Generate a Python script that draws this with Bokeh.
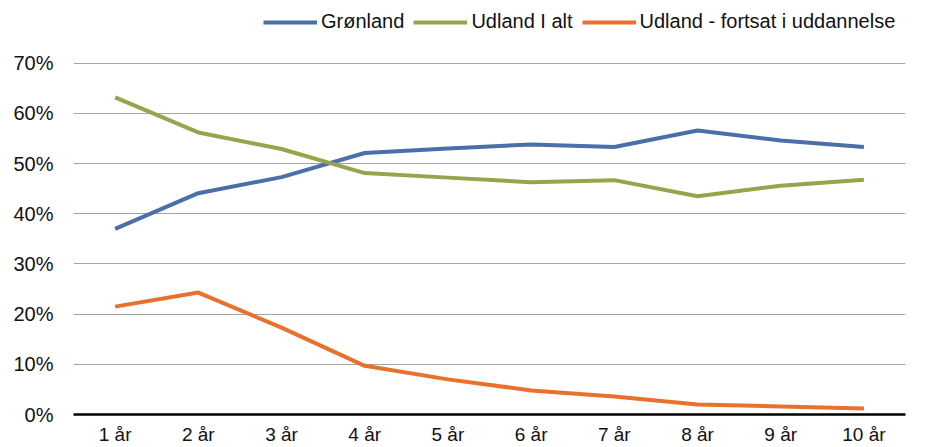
from bokeh.plotting import figure
from bokeh.models import FactorRange, Range1d, NumeralTickFormatter, Legend, LegendItem, FixedTicker
from bokeh.embed import file_html
from bokeh.resources import INLINE

categories = ["1 år", "2 år", "3 år", "4 år", "5 år", "6 år", "7 år", "8 år", "9 år", "10 år"]
groenland = [0.370, 0.441, 0.473, 0.521, 0.530, 0.538, 0.533, 0.566, 0.546, 0.533]
udland_i_alt = [0.632, 0.562, 0.529, 0.481, 0.472, 0.463, 0.467, 0.435, 0.456, 0.468]
udland_fortsat = [0.215, 0.243, 0.173, 0.097, 0.070, 0.048, 0.036, 0.020, 0.016, 0.012]
y_ticks = [0.0, 0.1, 0.2, 0.3, 0.4, 0.5, 0.6, 0.7]

FONT = "Liberation Sans"

p = figure(width=940, height=447, x_range=FactorRange(*categories),
           y_range=Range1d(0, 0.809), output_backend="svg", toolbar_location=None,
           min_border_left=73, min_border_right=35, min_border_top=8, min_border_bottom=32)
p.outline_line_color = None
p.background_fill_color = "white"
p.border_fill_color = "white"

p.yaxis.ticker = FixedTicker(ticks=y_ticks)
p.yaxis.formatter = NumeralTickFormatter(format="0%")
p.yaxis.axis_line_color = None
p.yaxis.major_tick_line_color = None
p.yaxis.minor_tick_line_color = None
p.yaxis.major_label_text_font = FONT
p.yaxis.major_label_text_font_size = "20px"
p.yaxis.major_label_text_color = "#111111"
p.yaxis.major_label_standoff = 14

p.xaxis.axis_line_color = "black"
p.xaxis.axis_line_width = 2.5
p.xaxis.major_tick_line_color = None
p.xaxis.minor_tick_line_color = None
p.xaxis.major_label_text_font = FONT
p.xaxis.major_label_text_font_size = "19px"
p.xaxis.major_label_text_color = "#111111"
p.xaxis.major_label_standoff = 3

p.xgrid.grid_line_color = None
p.ygrid.grid_line_color = "#a6a6a6"
p.ygrid.grid_line_width = 1

r1 = p.line(categories, groenland, line_color="#4b6fa9", line_width=4)
r2 = p.line(categories, udland_i_alt, line_color="#98a44b", line_width=4)
r3 = p.line(categories, udland_fortsat, line_color="#e8712e", line_width=4)

legend = Legend(items=[LegendItem(label="Grønland", renderers=[r1]),
                       LegendItem(label="Udland I alt", renderers=[r2]),
                       LegendItem(label="Udland - fortsat i uddannelse", renderers=[r3])],
                orientation="horizontal", location=(190, 381),
                label_text_font=FONT, label_text_font_size="20px", label_text_color="#111111",
                glyph_width=54, glyph_height=20, label_standoff=4, spacing=9,
                padding=0, margin=0, border_line_color=None, background_fill_alpha=0)
p.add_layout(legend, "center")

open("out.html", "w").write(file_html(p, INLINE))
